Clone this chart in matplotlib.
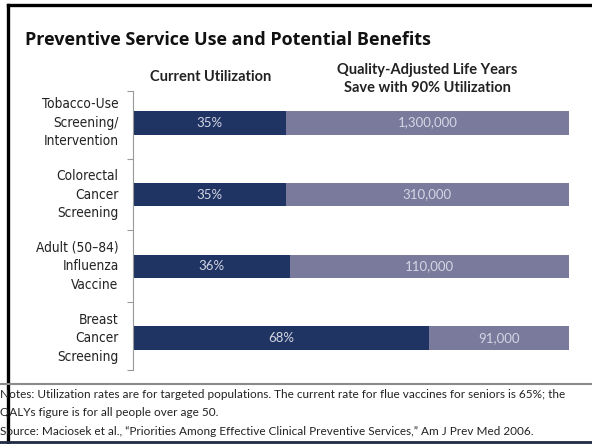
import matplotlib
matplotlib.use("Agg")
import matplotlib.pyplot as plt
from matplotlib.lines import Line2D

# ========= data =========
services = [
    "Tobacco-Use\nScreening/\nIntervention",
    "Colorectal\nCancer\nScreening",
    "Adult (50–84)\nInfluenza\nVaccine",
    "Breast\nCancer\nScreening",
]
utilization = [35, 35, 36, 68]          # current utilization, %
qaly_labels = ["1,300,000", "310,000", "110,000", "91,000"]

DARK = "#1f3462"
LIGHT = "#7a7a9c"
BAR_TEXT = "#d4d6e4"
SANS = ["Lato", "DejaVu Sans"]
COND = dict(family=["DejaVu Sans"], stretch="condensed")

W, H = 592, 444
fig = plt.figure(figsize=(W / 100, H / 100), dpi=100)

def fx(px):
    return px / W

def fy(py):
    return 1 - py / H

# frame lines
fig.add_artist(Line2D([fx(8), fx(8)], [0, fy(5)], color="black", lw=2.4))
fig.add_artist(Line2D([fx(8), 1], [fy(5), fy(5)], color="black", lw=2.4))
fig.add_artist(Line2D([0, 1], [fy(384), fy(384)], color="#8a8a8a", lw=1.5))
fig.add_artist(Line2D([0, 1], [fy(442), fy(442)], color="#1f2a44", lw=2))

# ========= chart =========
ax = fig.add_axes([fx(133), fy(370), fx(569) - fx(133), fy(91) - fy(370)])
ypos = list(range(len(services)))
rest = [100 - u for u in utilization]
ax.barh(ypos, utilization, height=0.33, color=DARK)
ax.barh(ypos, rest, left=utilization, height=0.33, color=LIGHT)

for y, u, q in zip(ypos, utilization, qaly_labels):
    ax.text(u / 2, y, f"{u}%", ha="center", va="center", color=BAR_TEXT,
            fontsize=9.5, family=SANS)
    ax.text(u + (100 - u) / 2, y, q, ha="center", va="center", color=BAR_TEXT,
            fontsize=9.5, family=SANS)
    ax.text(-3.3, y, services[y], ha="right", va="center", color="#222222",
            fontsize=9.8, linespacing=1.42, **COND)

ax.set_xlim(0, 100)
ax.set_ylim(3.44, -0.44)
ax.set_yticks([-0.44, 0.5, 1.5, 2.5, 3.44])
ax.set_yticklabels([])
ax.tick_params(axis="y", length=4, color="#999999", width=0.8)
ax.set_xticks([])
for s in ["top", "right", "bottom"]:
    ax.spines[s].set_visible(False)
ax.spines["left"].set_color("#999999")
ax.spines["left"].set_linewidth(0.8)

# ========= titles =========
fig.text(fx(25), fy(40), "Preventive Service Use and Potential Benefits",
         ha="left", va="center", fontsize=13, fontweight="bold",
         family=["Open Sans", "DejaVu Sans"], color="#111111")
fig.text(fx(211), fy(77), "Current Utilization", ha="center", va="center",
         fontsize=10.5, fontweight="bold", family=SANS, color="#222222")
fig.text(fx(427), fy(79), "Quality-Adjusted Life Years\nSave with 90% Utilization",
         ha="center", va="center", fontsize=10.5, fontweight="bold",
         family=SANS, color="#222222", linespacing=1.3)

# ========= notes =========
fig.text(fx(0), fy(394), "Notes: Utilization rates are for targeted populations. "
         "The current rate for flue vaccines for seniors is 65%; the",
         ha="left", va="center", fontsize=8.5, family=SANS, color="#222222")
fig.text(fx(0), fy(412), "QALYs figure is for all people over age 50.",
         ha="left", va="center", fontsize=8.5, family=SANS, color="#222222")
fig.text(fx(0), fy(431), "Source: Maciosek et al., \u201cPriorities Among Effective "
         "Clinical Preventive Services,\u201d Am J Prev Med 2006.",
         ha="left", va="center", fontsize=8.5, family=SANS, color="#222222")

fig.savefig("out.png", dpi=100)
